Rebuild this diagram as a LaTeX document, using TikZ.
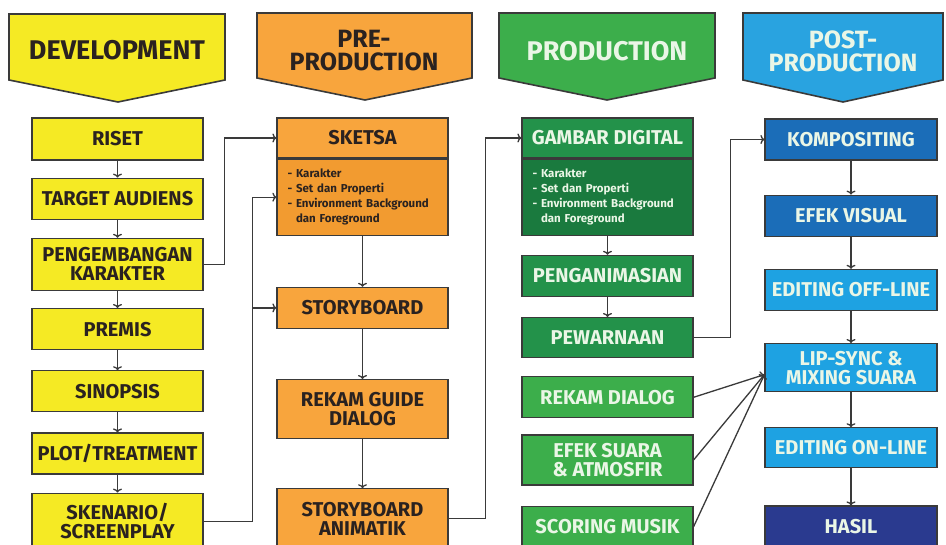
\documentclass[tikz,border=0pt]{standalone}
\usepackage{fontspec}
\setmainfont{Fira Sans}
\usetikzlibrary{positioning,arrows.meta}

\definecolor{devyellow}{HTML}{F5EA24}
\definecolor{preorange}{HTML}{F8A53D}
\definecolor{preorangebody}{HTML}{F29B30}
\definecolor{prodgreen}{HTML}{3CAE4B}
\definecolor{prodgreendark}{HTML}{23924A}
\definecolor{prodgreenbody}{HTML}{1A7A3E}
\definecolor{postblue}{HTML}{29A3E0}
\definecolor{postcyan}{HTML}{1EA2E2}
\definecolor{postbluedark}{HTML}{1B6DB8}
\definecolor{hasilnavy}{HTML}{2A3A8F}
\definecolor{darktext}{HTML}{2A2220}
\definecolor{lighttext}{HTML}{EAF6E6}
\definecolor{boxline}{HTML}{3A3A3A}
\definecolor{flowline}{HTML}{3A3A3A}

\begin{document}
\begin{tikzpicture}[x=1pt, y=-1pt,
    stagebox/.style={rectangle, draw=boxline, line width=1.2pt, minimum width=171pt, minimum height=41pt,
                     inner sep=2pt, align=center, font=\fontsize{20}{19}\selectfont\bfseries},
    devbox/.style={stagebox, fill=devyellow, text=darktext},
    prebox/.style={stagebox, fill=preorange, text=darktext},
    prebody/.style={stagebox, fill=preorangebody, text=darktext, align=left, text width=150pt,
                    font=\fontsize{11.5}{15}\selectfont\bfseries},
    prodbox/.style={stagebox, fill=prodgreen, text=lighttext},
    prodboxdark/.style={stagebox, fill=prodgreendark, text=lighttext},
    prodbody/.style={stagebox, fill=prodgreenbody, text=lighttext, align=left, text width=150pt,
                     font=\fontsize{11.5}{15}\selectfont\bfseries},
    postbox/.style={stagebox, minimum width=172pt, fill=postcyan, text=lighttext},
    postboxdark/.style={stagebox, minimum width=172pt, fill=postbluedark, text=lighttext},
    hasilbox/.style={stagebox, minimum width=172pt, fill=hasilnavy, text=lighttext},
    banner/.style={draw=boxline, line width=1.6pt},
    bannertext/.style={align=center, font=\fontsize{27}{23}\selectfont\bfseries},
    bannertwo/.style={align=center, font=\fontsize{25}{23}\selectfont\bfseries},
    flow/.style={draw=flowline, line width=1.3pt, >={To[length=4pt,width=9pt]}},]
    \fill[white] (0,0) rectangle (946,545);
    \useasboundingbox (0,0) rectangle (946,545);
    % banners
    \filldraw[banner, fill=devyellow]  (9,14) -- (225,14) -- (225,80) -- (118,102) -- (9,80) -- cycle;
    \filldraw[banner, fill=preorange]  (257,13) -- (472,13) -- (472,78) -- (365,100) -- (257,78) -- cycle;
    \filldraw[banner, fill=prodgreen]  (499,13) -- (715,13) -- (715,78) -- (607,100) -- (499,78) -- cycle;
    \filldraw[banner, fill=postblue]   (743,13) -- (943,13) -- (943,80) -- (843,102) -- (743,80) -- cycle;
    \node[bannertext, text=darktext]  (hdev)  at (117,50) {DEVELOPMENT};
    \node[bannertwo, text=darktext]   (hpre)  at (364,51) {PRE-\\PRODUCTION};
    \node[bannertext, text=lighttext] (hprod) at (607,51) {PRODUCTION};
    \node[bannertwo, text=lighttext]  (hpost) at (843,51) {POST-\\PRODUCTION};
    % development
    \node[devbox, minimum height=42pt] (riset)        at (117.5,139)          {RISET};
    \node[devbox]                      (target)       [below=17pt of riset]   {TARGET AUDIENS};
    \node[devbox, minimum height=52pt] (pengembangan) [below=18pt of target]  {PENGEMBANGAN\\KARAKTER};
    \node[devbox]                      (premis)       [below=17pt of pengembangan] {PREMIS};
    \node[devbox]                      (sinopsis)     [below=20pt of premis]  {SINOPSIS};
    \node[devbox]                      (plot)         [below=20pt of sinopsis] {PLOT/TREATMENT};
    \node[devbox, minimum height=56pt] (skenario)     [below=18pt of plot]    {SKENARIO/\\SCREENPLAY};
    % pre-production
    \node[prebox, minimum height=40pt] (sketsa)       at (362.5,138)          {SKETSA};
    \node[prebody, minimum height=76pt] (sketsabody)  [below=0pt of sketsa]
        {- Karakter\\- Set dan Properti\\- Environment Background\\\phantom{- }dan Foreground};
    \node[prebox]                      (storyboard)   [below=51pt of sketsabody] {STORYBOARD};
    \node[prebox, minimum height=59pt] (guide)        [below=50pt of storyboard] {REKAM GUIDE\\DIALOG};
    \node[prebox, minimum height=60pt] (animatik)     [below=49pt of guide]   {STORYBOARD\\ANIMATIK};
    % production
    \node[prodboxdark, minimum height=40pt] (gambar)  at (607.5,138)          {GAMBAR DIGITAL};
    \node[prodbody, minimum height=76pt] (gambarbody) [below=0pt of gambar]
        {- Karakter\\- Set dan Properti\\- Environment Background\\\phantom{- }dan Foreground};
    \node[prodboxdark, minimum height=41pt] (animasi) [below=19pt of gambarbody] {PENGANIMASIAN};
    \node[prodboxdark, minimum height=40pt] (pewarnaan) [below=20pt of animasi] {PEWARNAAN};
    \node[prodbox, minimum height=41pt] (dialog)      [below=18pt of pewarnaan] {REKAM DIALOG};
    \node[prodbox, minimum height=50pt] (efeksuara)   [below=16pt of dialog]  {EFEK SUARA\\\& ATMOSFIR};
    \node[prodbox]                      (scoring)     [below=20pt of efeksuara] {SCORING MUSIK};
    % post-production
    \node[postboxdark]                 (kompositing)  at (851,139.5)          {KOMPOSITING};
    \node[postboxdark]                 (efekvisual)   [below=34pt of kompositing] {EFEK VISUAL};
    \node[postbox]                     (offline)      [below=32pt of efekvisual] {EDITING OFF-LINE};
    \node[postbox, minimum height=48pt] (lipsync)     [below=32pt of offline] {LIP-SYNC \&\\MIXING SUARA};
    \node[postbox, minimum height=40pt] (online)      [below=35pt of lipsync] {EDITING ON-LINE};
    \node[hasilbox, minimum height=42pt] (hasil)      [below=37pt of online]  {HASIL};
    \coordinate (lipin) at ([yshift=-7pt]lipsync.west);
    % lines
    \draw[flow, ->] (riset.south) -- (target.north);
    \draw[flow, ->] (target.south) -- (pengembangan.north);
    \draw[flow, ->] (pengembangan.south) -- (premis.north);
    \draw[flow, ->] (premis.south) -- (sinopsis.north);
    \draw[flow, ->] (sinopsis.south) -- (plot.north);
    \draw[flow, ->] (plot.south) -- (skenario.north);
    \draw[flow, ->] (pengembangan.east) -- ++(21,0) |- (sketsa.west);
    \draw[flow, ->] (skenario.east) -- ++(49,0) coordinate (skjoin) |- (sketsabody.west);
    \draw[flow, ->] (skjoin |- storyboard.west) -- (storyboard.west);
    \draw[flow, ->] (sketsabody.south) -- (storyboard.north);
    \draw[flow, ->] (storyboard.south) -- (guide.north);
    \draw[flow, ->] (guide.south) -- (animatik.north);
    \draw[flow, ->] (animatik.east) -- ++(37,0) |- (gambar.west);
    \draw[flow, ->] (gambarbody.south) -- (animasi.north);
    \draw[flow, ->] (animasi.south) -- (pewarnaan.north);
    \draw[flow, ->] (pewarnaan.east) -- ++(37,0) |- (kompositing.west);
    \draw[flow, ->] (dialog.east) -- (lipin);
    \draw[flow, ->] (efeksuara.east) -- (lipin);
    \draw[flow, ->] (scoring.east) -- (lipin);
    \draw[flow, ->] (kompositing.south) -- (efekvisual.north);
    \draw[flow, ->] (efekvisual.south) -- (offline.north);
    \draw[flow, ->] (offline.south) -- (lipsync.north);
    \draw[flow, ->] (lipsync.south) -- (online.north);
    \draw[flow, ->] (online.south) -- (hasil.north);
\end{tikzpicture}
\end{document}
